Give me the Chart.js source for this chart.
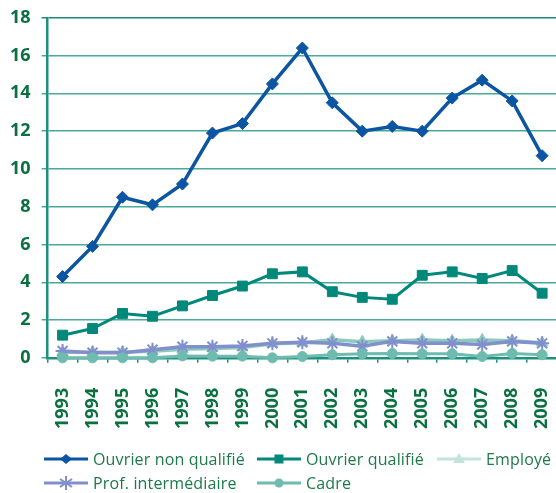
<!DOCTYPE html>
<html>
<head>
<meta charset="utf-8">
<script src="https://cdn.jsdelivr.net/npm/chart.js@4/dist/chart.umd.min.js"></script>
<style>
  html, body { margin: 0; padding: 0; background: #fff; overflow: hidden; width: 556px; height: 493px; }
  #wrap { position: absolute; left: -11px; top: -4px; width: 600px; height: 458px; }
  #legend { position: absolute; left: 0; top: 447px; width: 556px; height: 46px;
            font-family: "Open Sans", sans-serif; font-size: 16px; letter-spacing: 0.15px; color: #1d7a48; }
  .item { position: absolute; display: flex; align-items: center; height: 22px; white-space: nowrap; }
  .item svg { margin-right: 4px; }
  .item:nth-child(1) { left: 44px; top: 1px; }
  .item:nth-child(2) { left: 257px; top: 1px; }
  .item:nth-child(3) { left: 437px; top: 1px; }
  .item:nth-child(4) { left: 44px; top: 25px; }
  .item:nth-child(5) { left: 257px; top: 25px; }
</style>
</head>
<body>
<div id="wrap"><canvas id="chart"></canvas></div>
<div id="legend"></div>
<script>
// years on the x axis
const years = ['1993', '1994', '1995', '1996', '1997', '1998', '1999', '2000', '2001',
               '2002', '2003', '2004', '2005', '2006', '2007', '2008', '2009'];

// series values
const ouvrierNonQualifie = [4.3, 5.9, 8.5, 8.1, 9.2, 11.9, 12.4, 14.5, 16.4, 13.5, 12.0, 12.25, 12.0, 13.75, 14.7, 13.6, 10.7];
const ouvrierQualifie = [1.2, 1.55, 2.35, 2.2, 2.75, 3.3, 3.8, 4.45, 4.55, 3.5, 3.2, 3.1, 4.37, 4.55, 4.2, 4.62, 3.42];
const employe = [0.3, 0.3, 0.3, 0.35, 0.45, 0.5, 0.55, 0.75, 0.8, 0.96, 0.85, 0.9, 0.95, 0.9, 0.95, 0.9, 0.8];
const profIntermediaire = [0.36, 0.27, 0.27, 0.43, 0.59, 0.59, 0.63, 0.77, 0.82, 0.77, 0.61, 0.87, 0.77, 0.77, 0.7, 0.87, 0.77];
const cadre = [0, 0, 0, 0, 0.1, 0.09, 0.09, 0, 0.07, 0.16, 0.21, 0.23, 0.21, 0.21, 0.07, 0.23, 0.16];

const seriesNames = ['Ouvrier non qualifié', 'Ouvrier qualifié', 'Employé', 'Prof. intermédiaire', 'Cadre'];

// y ticks
const yMin = 0;
const yMax = 18;
const yStep = 2;

const green = '#0b7040';
const teal = '#1f8f7e';

const datasets = [
    { label: seriesNames[0], data: ouvrierNonQualifie, borderColor: '#0b55a2', backgroundColor: '#0b55a2',
      borderWidth: 3.5, pointStyle: 'rectRot', pointRadius: 6, pointBorderWidth: 1, order: 1 },
    { label: seriesNames[1], data: ouvrierQualifie, borderColor: '#00897a', backgroundColor: '#00897a',
      borderWidth: 3, pointStyle: 'rect', pointRadius: 7, pointBorderWidth: 1, order: 2 },
    { label: seriesNames[2], data: employe, borderColor: '#8ccabd', backgroundColor: '#8ccabd',
      borderWidth: 3.5, pointStyle: 'triangle', pointRadius: 6.5, pointBorderWidth: 1, order: 5 },
    { label: seriesNames[3], data: profIntermediaire, borderColor: '#8190cc', backgroundColor: '#8190cc',
      borderWidth: 3.5, pointStyle: 'star', pointRadius: 7, pointBorderWidth: 2, order: 4 },
    { label: seriesNames[4], data: cadre, borderColor: '#6dbcaf', backgroundColor: '#6dbcaf',
      borderWidth: 3, pointStyle: 'circle', pointRadius: 5, pointBorderWidth: 1, order: 3 }
];
datasets.forEach(ds => { ds.tension = 0; ds.clip = false; ds.pointHoverRadius = ds.pointRadius; });

const chart = new Chart(document.getElementById('chart'), {
    type: 'line',
    data: { labels: years, datasets: datasets },
    options: {
        responsive: true,
        maintainAspectRatio: false,
        animation: false,
        layout: { padding: { left: 10, right: 0, top: 7, bottom: 0 } },
        plugins: { legend: { display: false }, tooltip: { enabled: false } },
        scales: {
            x: {
                offset: true,
                grid: { display: true, drawOnChartArea: false, offset: true, tickLength: 5, color: teal, lineWidth: 1.5 },
                border: { display: true, color: teal, width: 2.5 },
                ticks: { minRotation: 90, maxRotation: 90, padding: 25, color: green,
                         font: { family: 'Open Sans', size: 18, weight: 'bold' } }
            },
            y: {
                min: yMin, max: yMax,
                grid: { color: ctx => ctx.tick && ctx.tick.value === yMax ? '#1a8a7a' : '#47aa9c',
                        lineWidth: 1.5, tickLength: 6 },
                border: { display: true, color: teal, width: 2.5 },
                ticks: { stepSize: yStep, padding: 11, color: green,
                         font: { family: 'Open Sans', size: 18, weight: 'bold' } }
            }
        }
    }
});

// legend built in HTML: line sample with marker, then label
const legendColors = ['#0b55a2', '#00897a', '#c3e3db', '#8190cc', '#6dbcaf'];
function markerSvg(style, color) {
    let m = '';
    if (style === 'rectRot') m = `<polygon points="22,6 28,11 22,16 16,11" fill="${color}"/>`;
    if (style === 'rect') m = `<rect x="17.5" y="6.5" width="9" height="9" fill="${color}"/>`;
    if (style === 'triangle') m = `<polygon points="22,5 28,15 16,15" fill="${color}"/>`;
    if (style === 'star') m = `<g stroke="${color}" stroke-width="2"><line x1="22" y1="4" x2="22" y2="18"/><line x1="16" y1="7" x2="28" y2="15"/><line x1="16" y1="15" x2="28" y2="7"/></g>`;
    if (style === 'circle') m = `<circle cx="22" cy="11" r="4.5" fill="${color}"/>`;
    return `<svg width="45" height="22"><line x1="0" y1="11" x2="44" y2="11" stroke="${color}" stroke-width="3"/>${m}</svg>`;
}
const legend = document.getElementById('legend');
datasets.forEach((ds, i) => {
    const item = document.createElement('div');
    item.className = 'item';
    item.innerHTML = markerSvg(ds.pointStyle, legendColors[i]) + `<span>${ds.label}</span>`;
    legend.appendChild(item);
});
</script>
</body>
</html>
